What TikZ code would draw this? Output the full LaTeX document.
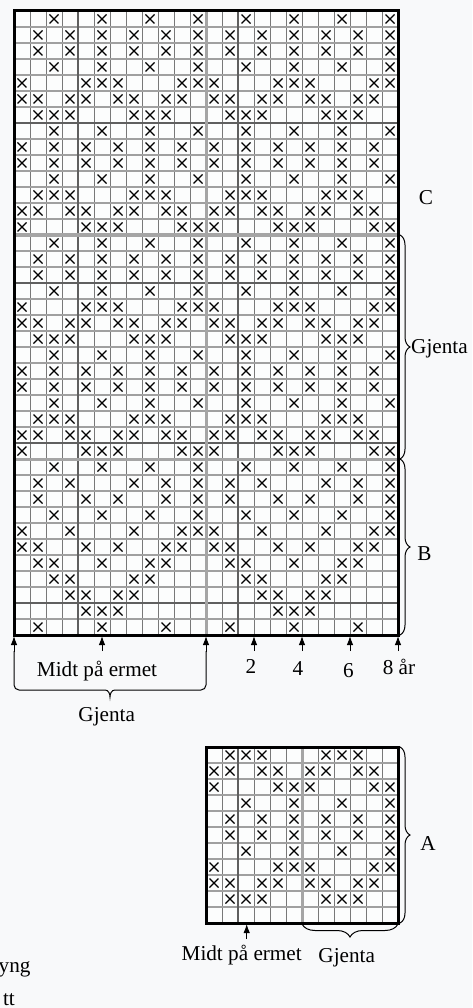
\documentclass[tikz,border=0pt]{standalone}
\usepackage{fontspec}
\setmainfont{Liberation Serif}
\usetikzlibrary{arrows.meta,decorations.pathreplacing}
\definecolor{bgc}{RGB}{248,249,250}
\definecolor{vthin}{RGB}{120,120,120}
\definecolor{hthin}{RGB}{160,160,160}
\definecolor{darkln}{RGB}{95,95,95}
\definecolor{grayln}{RGB}{165,165,165}
\def\kpA{2,5,8,11}
\def\kpB{1,3,5,7,9,11}
\def\kpD{0,4,5,6,10,11}
\def\kpE{0,1,3,4,6,7,9,10}
\def\kpF{1,2,3,7,8,9}
\def\kpG{0,2,4,6,8,10}
\def\kpH{1,3,7,9,11}
\def\kpI{1,4,6,9,11}
\def\kpJ{0,3,7,10,11}
\def\kpK{0,1,4,6,9,10}
\def\kpL{1,2,5,8,9}
\def\kpM{2,3,7,8}
\def\kpN{3,4,6,7}
\def\kpO{4,5,6}
\def\kpP{1,5,9}
\begin{document}
\begin{tikzpicture}[x=1pt,y=-1pt,
  xm/.style={line width=1.1pt,black},
  vgrid/.style={draw=vthin,line width=0.9pt},
  hgrid/.style={draw=hthin,line width=1.3pt},
  darkgrid/.style={draw=darkln,line width=1.5pt},
  graygrid/.style={draw=grayln,line width=3pt},
  frame/.style={draw=black,line width=3pt},
  lbl/.style={font=\fontsize{21.2}{25}\selectfont,inner sep=0pt},
  arr/.style={line width=1pt,-{Latex[length=9pt,width=6.5pt]}},
  rbrace/.style={decorate,decoration={brace,amplitude=10pt},line width=1pt},
  bbrace/.style={decorate,decoration={brace,amplitude=13pt},line width=1pt}]
\fill[bgc] (0,0) rectangle (472,1008);
\useasboundingbox (0,0) rectangle (472,1008);
% ---------- main chart ----------
\fill[white!60!bgc] (14,11) rectangle (398,635);
\foreach \i in {1,...,23} \draw[vgrid] ({14+16*\i},11) -- ({14+16*\i},635);
\foreach \j in {1,...,38} \draw[hgrid] (14,{11+16*\j}) -- (398,{11+16*\j});
\foreach \i in {4,14} \draw[darkgrid] ({14+16*\i},11) -- ({14+16*\i},635);
\foreach \j in {7,17,27,37} \draw[darkgrid] (14,{11+16*\j}) -- (398,{11+16*\j});
\foreach \j in {14,28} \draw[graygrid] (14,{11+16*\j}) -- (398,{11+16*\j});
\draw[graygrid] (206,11) -- (206,635);
\draw[frame] (14,11) rectangle (398,635);
\foreach \r/\p in {0/A,1/B,2/B,3/A,4/D,5/E,6/F,7/A,8/G,9/G,10/A,11/F,12/E,13/D,
                   14/A,15/B,16/B,17/A,18/D,19/E,20/F,21/A,22/G,23/G,24/A,25/F,26/E,27/D,
                   28/A,29/H,30/I,31/A,32/J,33/K,34/L,35/M,36/N,37/O,38/P}{
  \edef\plist{\csname kp\p\endcsname}
  \foreach \c in \plist {
    \foreach \k in {0,12}{
      \pgfmathsetmacro\cx{14+16*(\c+\k)+8}
      \pgfmathsetmacro\cy{11+16*\r+8}
      \draw[xm] ({\cx-4.5},{\cy-4.5}) -- ({\cx+4.5},{\cy+4.5})
                ({\cx-4.5},{\cy+4.5}) -- ({\cx+4.5},{\cy-4.5});
    }
  }
}
% right labels and braces
\coordinate (gTop) at (400,235);
\coordinate (gBot) at (400,459);
\coordinate (bBot) at (400,635);
\draw[rbrace] (gTop) -- (gBot);
\draw[rbrace] (gBot) -- (bBot);
\node[lbl] (labC) at (426,198) {C};
\node[lbl,anchor=west] (labGr) at (411,349) {Gjenta};
\node[lbl] (labB) at (424.5,553.5) {B};
% bottom arrows
\foreach \n/\x in {l/14,m/102,c/206,s2/254,s4/302,s6/350,s8/398}{
  \coordinate (t\n) at (\x,636);
  \coordinate (f\n) at (\x,651);
}
\foreach \n in {m,s2,s4,s6,s8} \draw[arr] (f\n) -- (t\n);
\coordinate (bl) at (14,690);
\coordinate (br) at (206,690);
\draw[arr] (14,652) -- (tl);
\draw[arr] (206,652) -- (tc);
\draw[line width=1pt] (14,651) -- (14,685) to[out=-90,in=180] (19,690) -- (105,690)
   to[out=0,in=90] (110,697) to[out=90,in=180] (115,690) -- (201,690)
   to[out=0,in=-90] (206,685) -- (206,651);
\node[lbl,anchor=base] (labMidt) at (97,676) {Midt på ermet};
\node[lbl,anchor=base] (labGb) at (106.7,721) {Gjenta};
\node[lbl,anchor=base] (lab2) at (251,673) {2};
\node[lbl,anchor=base] (lab4) at (298,675) {4};
\node[lbl,anchor=base] (lab6) at (348.5,677) {6};
\node[lbl,anchor=base] (lab8) at (399,674) {8 år};
% ---------- chart A ----------
\fill[white!60!bgc] (206,747) rectangle (398,923);
\foreach \i in {1,...,11} \draw[vgrid] ({206+16*\i},747) -- ({206+16*\i},923);
\foreach \j in {1,...,10} \draw[hgrid] (206,{747+16*\j}) -- (398,{747+16*\j});
\draw[darkgrid] (238,747) -- (238,923);
\draw[graygrid] (302,747) -- (302,923);
\draw[frame] (206,747) rectangle (398,923);
\foreach \r/\p in {0/F,1/E,2/D,3/A,4/B,5/B,6/A,7/D,8/E,9/F}{
  \edef\plist{\csname kp\p\endcsname}
  \foreach \c in \plist {
      \pgfmathsetmacro\cx{206+16*\c+8}
      \pgfmathsetmacro\cy{747+16*\r+8}
      \draw[xm] ({\cx-4.5},{\cy-4.5}) -- ({\cx+4.5},{\cy+4.5})
                ({\cx-4.5},{\cy+4.5}) -- ({\cx+4.5},{\cy-4.5});
  }
}
\coordinate (aTop) at (400,747);
\coordinate (aBot) at (400,923);
\draw[rbrace] (aTop) -- (aBot);
\node[lbl] (labA) at (428,843) {A};
\coordinate (agR) at (398,924);
\coordinate (agL) at (302,924);
\draw[bbrace] (agR) -- (agL);
\coordinate (amT) at (246.7,924);
\coordinate (amF) at (246.7,939);
\draw[arr] (amF) -- (amT);
\node[lbl,anchor=base] (labMidtA) at (241.7,960) {Midt på ermet};
\node[lbl,anchor=base] (labGA) at (346.7,962) {Gjenta};
% cut-off text at the lower left
\node[lbl,anchor=base west] (cut1) at (-1.5,972) {yng};
\node[lbl,anchor=base east] (cut2) at (15,1005) {tt};
\end{tikzpicture}
\end{document}
